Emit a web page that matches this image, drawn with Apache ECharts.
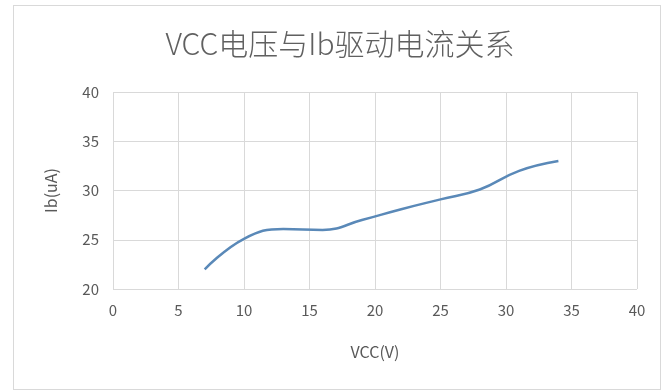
<!DOCTYPE html>
<html>
<head>
<meta charset="utf-8">
<script src="https://cdn.jsdelivr.net/npm/echarts@6/dist/echarts.min.js"></script>
<style>
  html, body { margin: 0; padding: 0; background: #fff; }
  #frame { position: absolute; left: 13px; top: 5px; width: 648px; height: 385px; border: 1px solid #d9d9d9; box-sizing: border-box; }
  #chart { position: absolute; left: 0; top: 0; width: 667px; height: 392px; }
</style>
</head>
<body>
<div id="frame"></div>
<div id="chart"></div>
<script>
// Supply voltage VCC (V) and measured base drive current Ib (uA)
const vcc = [7, 10, 13, 16, 19, 22, 25, 28, 31, 34];
const ib  = [22, 25.1, 26.1, 26, 27, 28.1, 29.1, 30.1, 32, 33];
const xTicks = [0, 5, 10, 15, 20, 25, 30, 35, 40];
const yTicks = [20, 25, 30, 35, 40];

const FONT = '"Noto Sans CJK SC", "Noto Sans", sans-serif';
const TEXT = '#595959';

const chart = echarts.init(document.getElementById('chart'), null, { renderer: 'canvas' });
chart.setOption({
  animation: false,
  backgroundColor: 'transparent',
  title: {
    text: 'VCC电压与Ib驱动电流关系',
    left: 335, top: 24, textAlign: 'center',
    textStyle: { fontFamily: FONT, fontSize: 30, fontWeight: 300, color: '#606060' }
  },
  grid: { left: 113, right: 30, top: 92, bottom: 103 },
  xAxis: {
    type: 'value',
    min: xTicks[0], max: xTicks[xTicks.length - 1], interval: 5,
    name: 'VCC(V)', nameLocation: 'middle', nameGap: 55,
    nameTextStyle: { fontFamily: FONT, fontSize: 16, color: TEXT },
    axisLine: { show: false },
    axisTick: { show: false },
    axisLabel: { fontFamily: FONT, fontSize: 15, color: TEXT, margin: 14 },
    splitLine: { show: true, lineStyle: { color: '#d9d9d9', width: 1 } }
  },
  yAxis: {
    type: 'value',
    min: yTicks[0], max: yTicks[yTicks.length - 1], interval: 5,
    name: 'Ib(uA)', nameLocation: 'middle', nameGap: 54, nameRotate: 90,
    nameTextStyle: { fontFamily: FONT, fontSize: 16, color: TEXT },
    axisLine: { show: false },
    axisTick: { show: false },
    axisLabel: { fontFamily: FONT, fontSize: 15, color: TEXT, margin: 14 },
    splitLine: { show: true, lineStyle: { color: '#d9d9d9', width: 1 } }
  },
  series: [{
    type: 'line',
    data: vcc.map((v, i) => [v, ib[i]]),
    smooth: 0.45,
    showSymbol: false,
    lineStyle: { color: '#5a89b8', width: 2.5 }
  }]
});
</script>
</body>
</html>
